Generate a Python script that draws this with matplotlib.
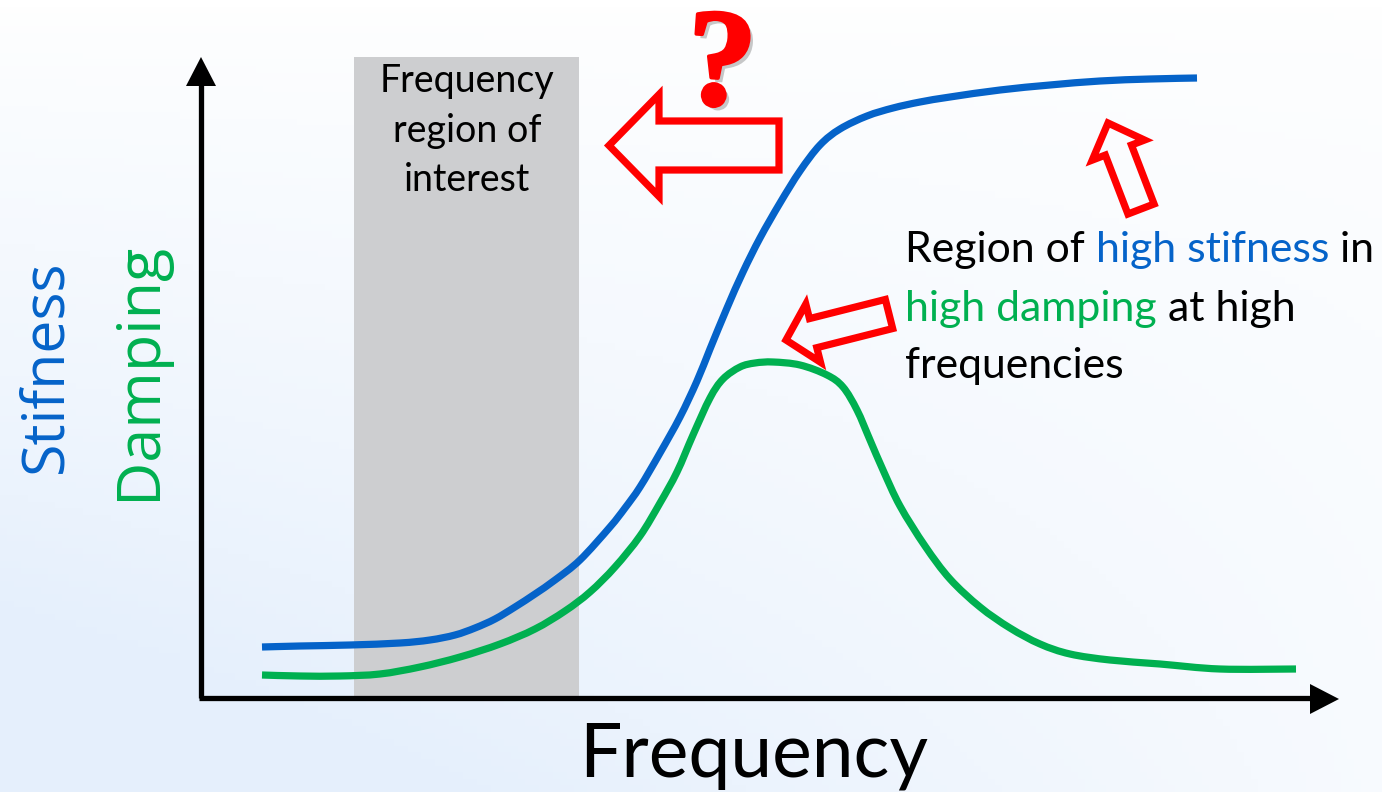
import numpy as np
import matplotlib
matplotlib.use('Agg')
import matplotlib.pyplot as plt
from matplotlib.patches import Polygon, Rectangle, PathPatch
from matplotlib.path import Path
import matplotlib.patheffects as pe

stiff_x = [262, 300, 350, 400, 430, 455, 475, 495, 515, 535, 555, 580, 610, 625, 640, 660, 680, 697, 710, 727,
           743, 760, 780, 800, 820, 840, 867, 893, 920, 950, 1000, 1050, 1100, 1150, 1197]
stiff_y = [647, 646, 645, 643, 640, 635, 628, 619, 607, 594, 580, 560, 527, 508, 487, 453, 417, 381, 349, 308,
           272, 238, 203, 171, 145, 129, 116, 108, 102, 97, 90, 85, 81, 79, 78]
damp_x = [262, 300, 340, 380, 420, 460, 500, 535, 565, 590, 615, 640, 660, 677, 693, 710, 723, 740, 755, 773, 800,
          827, 843, 857, 870, 883, 900, 925, 950, 980, 1010, 1040, 1070, 1110, 1160, 1220, 1296]
damp_y = [675, 676, 676, 674, 667, 657, 644, 629, 611, 592, 567, 536, 503, 472, 435, 398, 379, 367, 363, 362, 365,
          375, 387, 410, 440, 470, 506, 546, 579, 607, 628, 644, 654, 660, 664, 669, 669]
band = [354, 579]
band_label = ['Frequency', 'region of', 'interest']
note_lines = [[('Region of ', 'black'), ('high stifness', 'blue'), (' in', 'black')],
              [('high damping', 'green'), (' at high', 'black')],
              [('frequencies', 'black')]]
BLUE = '#0563C9'
GREEN = '#00B050'
cols = {'black': 'black', 'blue': BLUE, 'green': GREEN}


def smooth_line(ax, xs, ys, color):
    # bezier through the read points, like the hand drawn curve in the slide
    p = np.column_stack([xs, ys]).astype(float)
    verts = [p[0]]
    codes = [Path.MOVETO]
    for i in range(len(p) - 1):
        a = p[max(i - 1, 0)]
        d = p[min(i + 2, len(p) - 1)]
        verts += [p[i] + (p[i + 1] - a) / 6, p[i + 1] - (d - p[i]) / 6, p[i + 1]]
        codes += [Path.CURVE4] * 3
    ax.add_patch(PathPatch(Path(verts, codes), fill=False, ec=color, lw=5.2, capstyle='butt', zorder=3))


def block_arrow(ax, tail, tip, shaft_w, head_w, head_l):
    tail = np.array(tail, float)
    tip = np.array(tip, float)
    d = (tip - tail) / np.linalg.norm(tip - tail)
    n = np.array([-d[1], d[0]])
    base = tip - d * head_l
    pts = [tail + n * shaft_w / 2, base + n * shaft_w / 2, base + n * head_w / 2, tip,
           base - n * head_w / 2, base - n * shaft_w / 2, tail - n * shaft_w / 2]
    ax.add_patch(Polygon(pts, closed=True, fill=False, ec='#FF0000', lw=5.2, joinstyle='miter', zorder=5))


def axis_arrow(ax, tip, base, half):
    tip = np.array(tip, float)
    base = np.array(base, float)
    d = (tip - base) / np.linalg.norm(tip - base)
    n = np.array([-d[1], d[0]])
    ax.add_patch(Polygon([tip, base + n * half, base - n * half], closed=True, fc='black', ec='none', zorder=4))


fig = plt.figure(figsize=(13.82, 7.92), dpi=100)
ax = fig.add_axes([0, 0, 1, 1])
ax.set_xlim(0, 1382)
ax.set_ylim(792, 0)
ax.axis('off')

# background fades from pale blue bottom left to white top right
gx, gy = np.meshgrid(np.linspace(0, 1, 200), np.linspace(0, 1, 120))
t = np.clip(0.6 * (1 - gx) * gy + 0.45 * gy * gy * (1 - gx) + 0.3 * np.sqrt(gy), 0, 1)
white = np.array([1.0, 1.0, 1.0])
pale = np.array([0.90, 0.94, 0.99])
ax.imshow(white + t[..., None] * (pale - white), extent=[0, 1382, 792, 0], aspect='auto', zorder=0)

ax.add_patch(Rectangle((band[0], 57), band[1] - band[0], 641, fc='#CDCED0', ec='none', zorder=1))

smooth_line(ax, stiff_x, stiff_y, BLUE)
smooth_line(ax, damp_x, damp_y, GREEN)

# axes
ax.plot([201, 201], [698, 80], color='black', lw=3.8, solid_capstyle='butt', zorder=4)
ax.plot([199, 1315], [698, 698], color='black', lw=3.8, solid_capstyle='butt', zorder=4)
axis_arrow(ax, (201, 57), (201, 86), 15)
axis_arrow(ax, (1339, 699), (1310, 699), 15)

# labels
ax.text(754, 776, 'Frequency', fontsize=54, family='Lato', ha='center', va='baseline', zorder=6)
ax.text(62, 473, 'Stifness', fontsize=42.5, family='Open Sans', color=BLUE, rotation=90, ha='left', va='baseline',
        rotation_mode='anchor', zorder=6)
ax.text(155, 500, 'Damping', fontsize=44, family='Open Sans', color=GREEN, rotation=90, ha='left', va='baseline',
        rotation_mode='anchor', zorder=6)
for txt, yy in zip(band_label, [92, 142, 191]):
    ax.text(467, yy, txt, fontsize=27, family='Lato', ha='center', va='baseline', zorder=6)

# multi colour note, each run placed after the previous one
fig.canvas.draw()
rend = fig.canvas.get_renderer()
for line, yy in zip(note_lines, [262, 321, 378]):
    xx = 905
    for txt, c in line:
        tt = ax.text(xx, yy, txt, fontsize=30.8, family='Lato', color=cols[c], va='baseline', ha='left', zorder=6)
        xx += tt.get_window_extent(rend).width

# red markers
block_arrow(ax, (779, 145.5), (609, 145.5), 49, 102, 50)
block_arrow(ax, (1141, 209), (1108, 123), 28, 56, 29)
block_arrow(ax, (889, 314), (786, 340), 30, 60, 28)

ax.text(720, 107, '?', fontsize=100, family='Liberation Serif', weight='bold', color='#FF0000', ha='center',
        va='baseline', rotation=-4, zorder=7,
        path_effects=[pe.withSimplePatchShadow(offset=(3, -3), shadow_rgbFace='#777777', alpha=0.4),
                      pe.withStroke(linewidth=2.5, foreground='#FF0000')])

fig.savefig('out.png', dpi=100)
